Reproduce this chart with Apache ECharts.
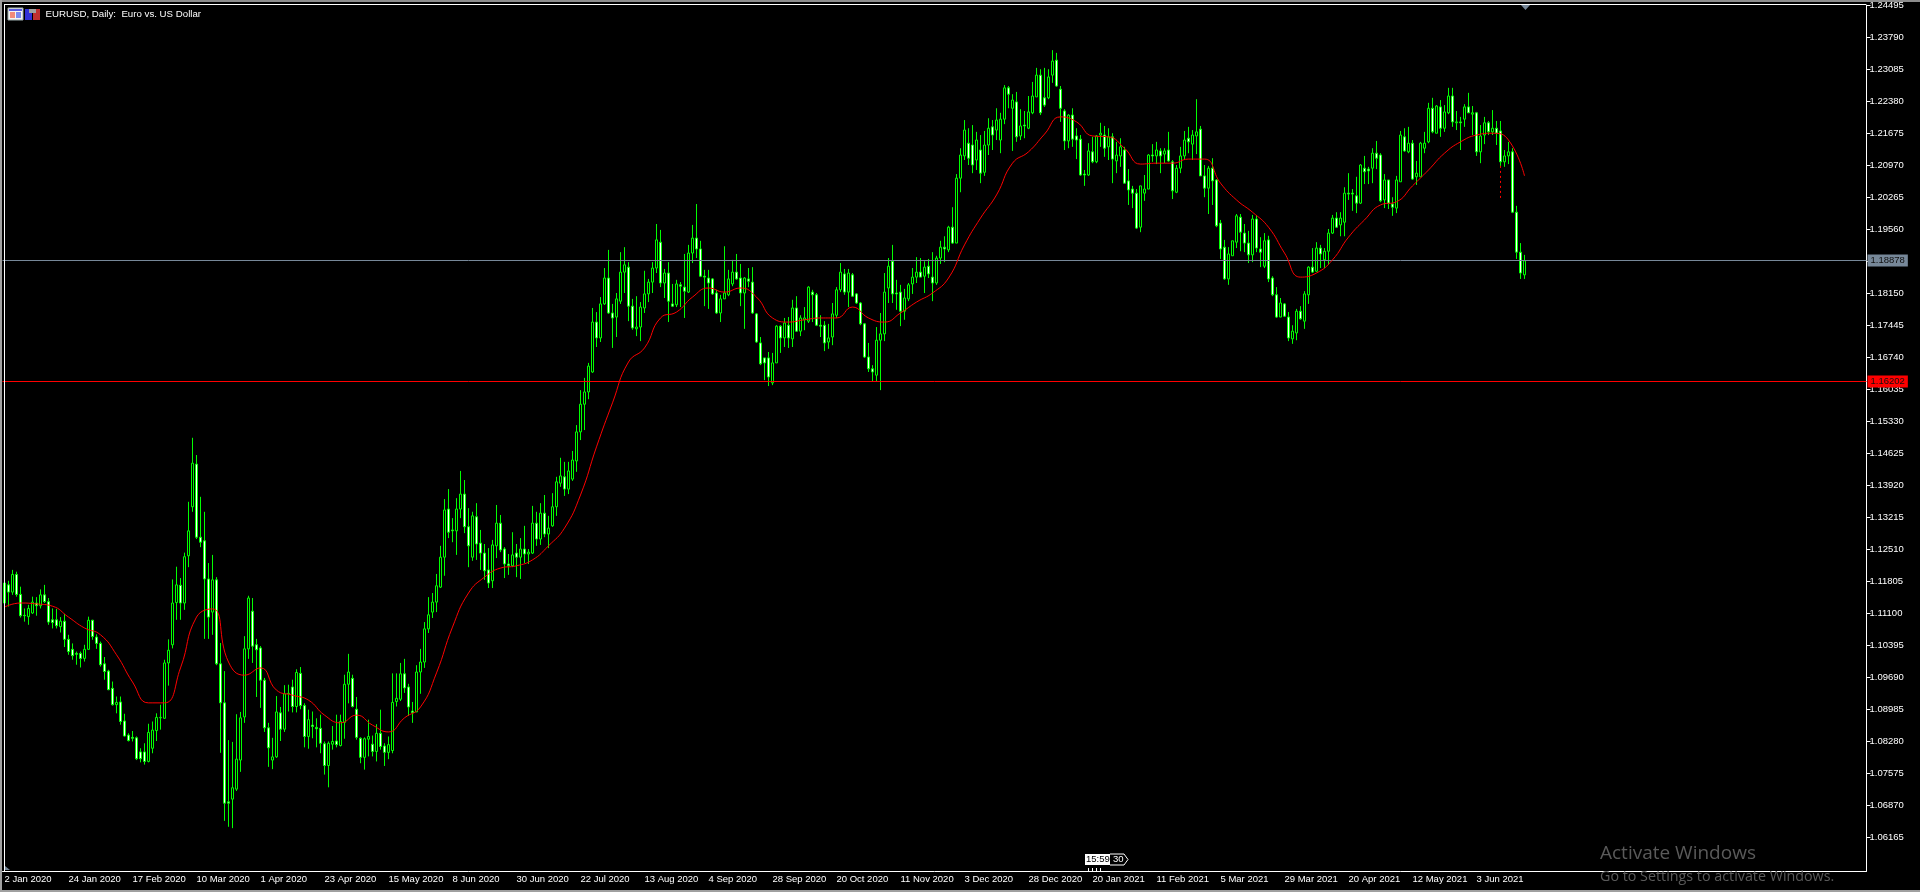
<!DOCTYPE html>
<html><head><meta charset="utf-8"><title>EURUSD, Daily</title>
<style>html,body{margin:0;padding:0;background:#000;overflow:hidden}#c{width:1920px;height:892px}</style>
<script src="https://cdn.jsdelivr.net/npm/echarts@6/dist/echarts.min.js"></script></head><body><div id="c"></div>
<script>
// Prices are in units of 0.0001; each row is [open, close, low, high]
const PRICE_SCALE = 10000;
const candles2020H1 = [
[11176,11132,11124,11212],[11172,11156,11124,11181],[11156,11195,11150,11205],[11195,11151,11146,11201],[11151,11104,11100,11168],[11105,11104,11091,11120],[11102,11120,11084,11128],[11110,11134,11108,11146],[11132,11126,11104,11145],[11126,11150,11120,11162],
[11150,11135,11132,11172],[11135,11090,11084,11143],[11095,11089,11076,11120],[11095,11082,11076,11119],[11080,11092,11067,11101],[11092,11052,11035,11108],[11052,11025,11018,11062],[11030,11016,11007,11043],[11021,11019,10996,11025],[11021,11010,10990,11025],
[11010,11030,11003,11040],[11030,11094,11029,11102],[11094,11058,11051,11095],[11057,11043,11031,11063],[11043,10996,10992,11047],[10998,10981,10963,11013],[10982,10941,10940,10985],[10944,10908,10906,10959],[10908,10913,10889,10926],[10914,10871,10864,10926],
[10872,10839,10838,10888],[10841,10829,10827,10845],[10836,10834,10827,10850],[10835,10789,10786,10838],[10804,10789,10781,10812],[10804,10783,10776,10823],[10783,10847,10781,10866],[10812,10852,10801,10871],[10851,10880,10828,10889],[10879,10880,10853,10908],
[10878,11000,10877,11007],[11000,11028,10950,11052],[11040,11132,11032,11184],[11133,11172,11095,11212],[11171,11132,11095,11187],[11132,11234,11117,11243],[11236,11291,11211,11355],[11344,11440,11333,11496],[11438,11277,11273,11458],[11277,11266,11255,11366],
[11269,11185,11053,11333],[11185,11101,11053,11220],[11112,11183,11062,11238],[11183,10998,10995,11189],[10998,10912,10802,11044],[10912,10691,10652,10982],[10694,10691,10639,10830],[10700,10725,10636,10826],[10722,10788,10718,10887],[10786,10879,10760,10892],
[10881,11031,10868,11059],[11031,11143,11009,11148],[11114,11037,11000,11143],[11040,11029,10925,11053],[11033,10962,10901,11037],[10962,10857,10848,10967],[10857,10813,10771,10868],[10786,10793,10766,10835],[10793,10892,10791,10927],[10890,10854,10828,10903],
[10854,10932,10848,10951],[10932,10933,10893,10952],[10947,10904,10891,10963],[10904,10979,10891,10986],[10977,10906,10898,10991],[10906,10838,10814,10911],[10838,10875,10811,10897],[10863,10860,10834,10893],[10858,10855,10814,10878],[10856,10823,10801,10886],
[10822,10774,10754,10827],[10774,10823,10726,10827],[10821,10827,10809,10861],[10828,10820,10814,10886],[10818,10871,10816,10886],[10869,10953,10833,10974],[10953,10980,10911,11020],[10966,10904,10902,10974],[10898,10836,10831,10925],[10834,10792,10779,10836],
[10792,10833,10765,10836],[10832,10838,10794,10875],[10821,10805,10794,10840],[10805,10845,10783,10865],[10845,10816,10809,10897],[10817,10803,10773,10823],[10803,10820,10788,10838],[10807,10913,10801,10977],[10915,10922,10904,10977],[10920,10976,10916,11000],
[10976,10945,10934,11009],[10947,10903,10883,10954],[10894,10890,10868,10914],[10892,10980,10892,10995],[10980,11002,10932,11031],[11002,11075,10989,11090],[11075,11106,11066,11145],[11112,11134,11099,11154],[11134,11170,11112,11196],[11167,11233,11165,11258],
[11233,11337,11192,11361],[11339,11288,11275,11383],[11293,11291,11266,11319],[11291,11339,11238,11363],[11339,11372,11319,11423],[11372,11300,11286,11403],[11300,11258,11211,11341],[11233,11324,11225,11333],[11322,11262,11227,11352],[11264,11242,11205,11293],
[11242,11203,11183,11262],[11205,11176,11165,11253],[11181,11260,11165,11271],[11258,11308,11231,11348],[11308,11249,11244,11326]
];
const candles2020H2 = [
[11251,11218,11187,11255],[11218,11214,11194,11240],[11214,11238,11211,11288],[11242,11233,11189,11262],[11233,11251,11185,11275],[11251,11240,11220,11302],[11240,11244,11218,11251],[11242,11308,11240,11346],[11308,11273,11258,11333],[11273,11330,11260,11352],
[11330,11284,11277,11370],[11284,11297,11253,11324],[11302,11344,11300,11374],[11344,11399,11324,11410],[11396,11412,11388,11452],[11410,11383,11368,11443],[11383,11423,11372,11443],[11405,11447,11401,11467],[11445,11509,11421,11524],[11509,11570,11491,11601],
[11570,11597,11513,11628],[11597,11654,11581,11661],[11641,11751,11639,11782],[11751,11716,11696,11773],[11716,11791,11707,11806],[11791,11848,11789,11870],[11848,11771,11769,11910],[11771,11760,11694,11791],[11762,11802,11718,11815],[11797,11861,11791,11905],
[11861,11877,11815,11916],[11872,11786,11753,11883],[11786,11738,11734,11802],[11736,11740,11720,11808],[11740,11784,11709,11795],[11782,11813,11771,11864],[11813,11839,11795,11846],[11839,11870,11815,11883],[11870,11932,11859,11967],[11927,11837,11828,11954],
[11837,11859,11804,11868],[11859,11797,11751,11883],[11791,11786,11784,11835],[11789,11835,11784,11844],[11833,11830,11784,11839],[11828,11819,11760,11901],[11817,11903,11815,11921],[11903,11936,11881,11965],[11936,11912,11892,12011],[11912,11852,11850,11930],
[11852,11850,11786,11866],[11848,11837,11780,11866],[11846,11813,11811,11848],[11815,11771,11769,11822],[11771,11802,11751,11811],[11802,11815,11802,11918],[11811,11846,11808,11866],[11835,11861,11830,11888],[11861,11846,11844,11901],[11848,11815,11786,11879],
[11815,11848,11736,11850],[11846,11841,11828,11870],[11839,11771,11769,11872],[11769,11707,11705,11771],[11705,11659,11656,11718],[11672,11661,11623,11672],[11672,11630,11610,11685],[11617,11661,11612,11683],[11661,11742,11661,11744],[11742,11716,11683,11744],
[11716,11749,11696,11760],[11744,11716,11694,11762],[11714,11782,11696,11800],[11782,11731,11729,11808],[11731,11760,11720,11766],[11756,11760,11733,11784],[11753,11828,11749,11830],[11817,11811,11751,11822],[11811,11744,11742,11815],[11744,11742,11718,11766],
[11744,11705,11687,11753],[11707,11716,11692,11747],[11718,11769,11700,11793],[11766,11822,11760,11828],[11822,11861,11817,11881],[11857,11817,11811,11868],[11817,11859,11784,11868],[11855,11808,11806,11859],[11813,11793,11791,11815],[11793,11747,11744,11795],
[11747,11674,11672,11749],[11674,11648,11641,11705],[11648,11641,11621,11656],[11634,11711,11621,11740],[11711,11725,11601,11771],[11725,11817,11709,11859],[11826,11874,11793,11892],[11885,11813,11793,11921],[11815,11813,11778,11844],[11817,11775,11742,11833],
[11775,11804,11756,11824],[11802,11833,11797,11837],[11835,11850,11813,11870],[11850,11861,11837,11894],[11861,11850,11850,11892],[11852,11872,11815,11885],[11874,11857,11848,11890],[11850,11837,11797,11905],[11837,11892,11833,11897],[11892,11916,11879,11930],
[11916,11912,11883,11940],[11910,11960,11905,11963],[11960,11925,11923,12004],[11925,12068,11925,12077],[12068,12119,12037,12134],[12117,12174,12108,12196],[12145,12112,12097,12178],[12141,12097,12079,12185],[12108,12152,12086,12170],[12130,12079,12057,12163],
[12081,12141,12073,12172],[12141,12178,12119,12200],[12181,12163,12130,12196],[12174,12196,12152,12222],[12152,12198,12123,12212],[12198,12267,12187,12273],[12267,12253,12222,12271],[12222,12240,12128,12253],[12236,12159,12148,12258],[12161,12183,12152,12220],
[12185,12183,12156,12216],[12178,12214,12176,12249],[12212,12249,12209,12280]
];
const candles2021 = [
[12247,12295,12247,12311],[12295,12212,12207,12308],[12245,12229,12225,12311],[12245,12291,12242,12308],[12295,12326,12278,12350],[12328,12271,12269,12344],[12264,12222,12192,12271],[12216,12150,12130,12220],[12150,12207,12134,12209],[12207,12154,12137,12222],
[12161,12152,12110,12178],[12154,12075,12073,12163],[12077,12075,12051,12086],[12075,12128,12073,12145],[12126,12104,12101,12159],[12104,12161,12101,12163],[12163,12167,12137,12190],[12163,12134,12115,12183],[12137,12159,12108,12178],[12159,12110,12057,12167],
[12106,12119,12079,12148],[12117,12137,12093,12156],[12130,12057,12057,12137],[12062,12042,12009,12088],[12044,12035,12002,12051],[12035,11958,11956,12044],[11960,12051,11949,12051],[12035,12044,12018,12075],[12044,12119,12044,12121],[12119,12117,12104,12143],
[12117,12130,12099,12148],[12128,12117,12079,12134],[12121,12128,12101,12134],[12130,12106,12104,12170],[12104,12040,12022,12108],[12037,12090,12035,12097],[12090,12117,12079,12137],[12117,12152,12108,12172],[12156,12148,12123,12181],[12143,12163,12108,12174],
[12161,12170,12121,12242],[12176,12073,12073,12183],[12073,12046,12026,12097],[12046,12090,11989,12095],[12090,12062,12009,12112],[12064,11963,11960,12066],[11969,11912,11890,11976],[11916,11846,11844,11932],[11846,11901,11833,11916],[11897,11930,11897,11930],
[11927,11985,11914,11989],[11982,11949,11907,11989],[11947,11925,11905,11967],[11925,11899,11881,11952],[11899,11978,11883,11987],[11978,11914,11905,11987],[11912,11905,11872,11938],[11874,11930,11870,11947],[11932,11846,11839,11941],[11848,11811,11808,11852],
[11811,11762,11760,11828],[11762,11793,11762,11804],[11791,11764,11762,11793],[11762,11716,11709,11773],[11714,11731,11703,11744],[11727,11775,11711,11780],[11775,11758,11756,11786],[11753,11813,11736,11819],[11811,11872,11791,11874],[11872,11861,11859,11914],
[11863,11914,11861,11927],[11914,11901,11870,11921],[11888,11907,11870,11914],[11907,11947,11877,11956],[11947,11980,11945,11987],[11980,11960,11958,11993],[11965,11980,11940,11993],[11971,12035,11940,12048],[12035,12033,12020,12079],[12035,12033,11996,12044],
[12029,12013,11991,12071],[12013,12097,12011,12099],[12090,12082,12055,12117],[12088,12084,12055,12093],[12090,12123,12057,12134],[12123,12112,12088,12150],[12119,12018,12015,12123],[12020,12064,12002,12077],[12064,12013,12000,12064],[12011,12004,11985,12026],
[12002,12064,11991,12073],[12060,12163,12060,12172],[12159,12128,12126,12178],[12126,12145,12123,12181],[12145,12066,12064,12152],[12071,12079,12053,12106],[12071,12145,12071,12148],[12134,12145,12123,12170],[12148,12222,12145,12234],[12222,12170,12167,12245],
[12167,12227,12167,12229],[12225,12178,12159,12240],[12178,12214,12170,12229],[12212,12249,12209,12267],[12249,12192,12181,12267],[12190,12192,12174,12216],[12192,12190,12130,12203],[12198,12225,12181,12231],[12225,12212,12212,12256],[12209,12212,12163,12227],
[12212,12126,12117,12214],[12126,12161,12101,12185],[12163,12190,12143,12203],[12190,12170,12163,12194],[12170,12178,12163,12218],[12178,12167,12141,12194],[12172,12104,12095,12194],[12104,12117,12093,12130],[12117,12126,12099,12148],[12126,11993,11991,12134],
[11993,11905,11890,12007],[11905,11859,11846,11925],[11855,11886,11846,11899]
];
// Moving average at every fourth bar
const MA_READ_EVERY = 4;
const maReadings = [11123,11132,11130,11125,11101,11077,11062,11018,10958,10912,10912,10989,11101,11119,11002,10973,10989,10940,10929,10918,10885,10868,10885,10863,10848,10879,10903,10978,11079,11154,11189,11209,11214,11227,11258,11297,11370,11476,11573,11663,11694,11760,11773,11806,11826,11817,11826,11806,11760,11751,11756,11760,11760,11784,11760,11751,11771,11795,11815,11848,11921,11980,12031,12101,12126,12165,12203,12192,12161,12159,12134,12099,12101,12101,12110,12110,12057,12020,11993,11960,11903,11850,11859,11888,11938,11976,12009,12016,12051,12086,12123,12148,12163,12167,12152,12073];
const xLabels = ['2 Jan 2020','24 Jan 2020','17 Feb 2020','10 Mar 2020','1 Apr 2020','23 Apr 2020','15 May 2020','8 Jun 2020','30 Jun 2020','22 Jul 2020','13 Aug 2020','4 Sep 2020','28 Sep 2020','20 Oct 2020','11 Nov 2020','3 Dec 2020','28 Dec 2020','20 Jan 2021','11 Feb 2021','5 Mar 2021','29 Mar 2021','20 Apr 2021','12 May 2021','3 Jun 2021'];
const yTickLabels = ['1.24495','1.23790','1.23085','1.22380','1.21675','1.20970','1.20265','1.19560','1.18855','1.18150','1.17445','1.16740','1.16035','1.15330','1.14625','1.13920','1.13215','1.12510','1.11805','1.11100','1.10395','1.09690','1.08985','1.08280','1.07575','1.06870','1.06165'];
const askLabel = '1.18878', levelLabel = '1.16202';
// drawn at the nearest whole screen row, so the 1px rule stays sharp
const askLine = 1.18868, levelLine = 1.16200;
const dashedWick = [1.2095, 1.2020];
const dashedBar = 374;
const title = 'EURUSD, Daily:  Euro vs. US Dollar';

const BARS_PER_LABEL = 16, SLOTS = 466;
const FONT = '"Liberation Sans",sans-serif';
const AXIS_FONT_SIZE = 9.5;
const allCandles = [...candles2020H1, ...candles2020H2, ...candles2021].map(r => r.map(v => v / PRICE_SCALE));
const categories = Array.from({length: SLOTS}, (_, i) => (i % BARS_PER_LABEL === 0 && xLabels[i / BARS_PER_LABEL]) || '');
const maSeries = new Array(allCandles.length).fill(null);
maReadings.forEach((v, k) => { maSeries[k * MA_READ_EVERY] = v / PRICE_SCALE; });
const yTicks = yTickLabels.map(Number);

const frame = [
  {x:0,y:0,w:1920,h:2,c:'#8c8c8c'},{x:0,y:0,w:2,h:892,c:'#a0a0a0'},{x:0,y:890,w:1920,h:2,c:'#a0a0a0'},
  {x:4,y:4,w:1862,h:1,c:'#fff'},{x:4,y:4,w:1,h:867,c:'#fff'}
];
const g = frame.map(f => ({type:'rect',silent:true,z:20,shape:{x:f.x,y:f.y,width:f.w,height:f.h},style:{fill:f.c}}));
// info icons
g.push({type:'rect',z:20,shape:{x:8,y:8,width:15,height:12},style:{fill:'#f4f4f4',stroke:'#9aa'}});
g.push({type:'rect',z:21,shape:{x:9,y:9,width:13,height:2},style:{fill:'#5a5ae0'}});
g.push({type:'rect',z:21,shape:{x:10,y:12,width:5,height:6},style:{fill:'#f08a7a'}});
g.push({type:'rect',z:21,shape:{x:16,y:12,width:5,height:6},style:{fill:'#7a8af0'}});
g.push({type:'rect',z:20,shape:{x:25,y:9,width:7,height:11},style:{fill:'#3232d8'}});
g.push({type:'rect',z:20,shape:{x:33,y:9,width:7,height:11},style:{fill:'#c03030'}});
g.push({type:'rect',z:21,shape:{x:29,y:9,width:7,height:4},style:{fill:'#a0a0a0'}});
g.push({type:'text',z:21,style:{x:45.5,y:14.5,text:title,fill:'#fff',font:'9.7px '+FONT,verticalAlign:'middle'}});
// chart-shift markers
g.push({type:'polygon',z:20,shape:{points:[[1521,5],[1530,5],[1525.5,10]]},style:{fill:'#778899'}});
g.push({type:'polygon',z:20,shape:{points:[[5,866],[5,870],[10,870]]},style:{fill:'#778899'}});
// countdown tag
g.push({type:'rect',z:20,shape:{x:1085,y:854,width:25,height:11},style:{fill:'#fff'}});
g.push({type:'polyline',z:20,shape:{points:[[1110,854],[1124,854],[1128,859.5],[1124,865],[1110,865]]},style:{stroke:'#fff',fill:'none',lineWidth:1}});
g.push({type:'text',z:21,style:{x:1086,y:859.5,text:'15:59',fill:'#000',font:'9.5px '+FONT,verticalAlign:'middle'}});
g.push({type:'text',z:21,style:{x:1113,y:859.5,text:'30',fill:'#fff',font:'9.5px '+FONT,verticalAlign:'middle'}});
[1088,1092,1096,1100].forEach(x => g.push({type:'rect',z:20,shape:{x:x,y:868,width:1,height:3},style:{fill:'#fff'}}));
// Windows watermark
g.push({type:'text',z:30,style:{x:1600,y:854,text:'Activate Windows',fill:'#5a5a5a',font:'19px "Open Sans",sans-serif',verticalAlign:'middle'}});
g.push({type:'text',z:30,style:{x:1600,y:877,text:'Go to Settings to activate Windows.',fill:'#5a5a5a',font:'14.3px "Open Sans",sans-serif',verticalAlign:'middle'}});

const chart = echarts.init(document.getElementById('c'), null, {renderer:'canvas', width:1920, height:892});
chart.setOption({
  animation:false, backgroundColor:'#000',
  graphic:{elements:g},
  grid:{left:2.5, top:5, width:1864, height:866, containLabel:false},
  xAxis:{type:'category', data:categories, boundaryGap:true,
    axisLine:{lineStyle:{color:'#fff',width:1}},
    axisTick:{alignWithLabel:true, length:4, lineStyle:{color:'#fff'}, interval:i => i % BARS_PER_LABEL === 0 && i < xLabels.length * BARS_PER_LABEL},
    axisLabel:{color:'#fff', fontFamily:FONT, fontSize:AXIS_FONT_SIZE, align:'left', margin:3, interval:BARS_PER_LABEL-1, showMinLabel:true, showMaxLabel:false, hideOverlap:false},
    splitLine:{show:false}},
  yAxis:{type:'value', position:'right', min:1.05416, max:1.24495, scale:true,
    axisLine:{show:true,lineStyle:{color:'#fff',width:1}},
    axisTick:{show:true,length:4,lineStyle:{color:'#fff'},customValues:yTicks},
    axisLabel:{color:'#fff',fontFamily:FONT,fontSize:AXIS_FONT_SIZE,margin:3,customValues:yTicks,formatter:v => v.toFixed(5),showMinLabel:true,showMaxLabel:true,hideOverlap:false},
    splitLine:{show:false}},
  series:[
    {type:'candlestick', name:'EURUSD', data:allCandles, barWidth:3, clip:false,
     itemStyle:{color:'#000',color0:'#fff',borderColor:'#00ff00',borderColor0:'#00ff00',borderWidth:1},
     markLine:{silent:true,symbol:'none',animation:false,precision:5,
       data:[
        {yAxis:askLine,lineStyle:{color:'#778899',width:1,type:'solid'},label:{position:'end',formatter:askLabel,color:'#111',backgroundColor:'#778899',fontFamily:FONT,fontSize:AXIS_FONT_SIZE,padding:[1,3,1,3],distance:1}},
        {yAxis:levelLine,lineStyle:{color:'#ff0000',width:1,type:'solid'},label:{position:'end',formatter:levelLabel,color:'#111',backgroundColor:'#ff0000',fontFamily:FONT,fontSize:AXIS_FONT_SIZE,padding:[1,3,1,3],distance:1}}
       ]}},
    {type:'line', name:'MA', data:maSeries, connectNulls:true, showSymbol:false, symbol:'none', smooth:0.5,
     lineStyle:{color:'#ff0000',width:1}, z:5,
     markLine:{silent:true,symbol:'none',animation:false,
       data:[[{coord:[dashedBar,dashedWick[0]]},{coord:[dashedBar,dashedWick[1]]}]],
       lineStyle:{color:'#ff0000',width:1,type:[2,3]},label:{show:false}}}
  ]
});
</script></body></html>
